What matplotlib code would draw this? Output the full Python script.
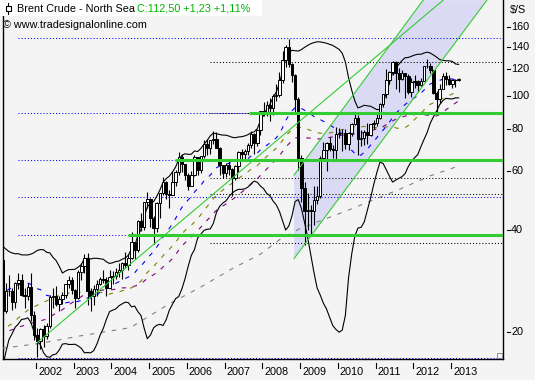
import numpy as np
import pandas as pd
import matplotlib
matplotlib.use("Agg")
import matplotlib.pyplot as plt
from matplotlib.patches import Rectangle, Polygon
import matplotlib.transforms as mtransforms

plt.rcParams['font.family'] = ['Liberation Sans', 'DejaVu Sans']

# monthly closes Jan 1996 - Dec 1999, only used to warm up the averages
warmup_close = [
    19.0, 19.5, 21.0, 19.5, 19.0, 20.0, 20.0, 22.0, 24.0, 23.5, 23.5, 23.8,
    23.2, 20.5, 20.0, 18.5, 20.0, 18.5, 19.5, 19.5, 20.5, 20.0, 18.5, 17.0,
    15.5, 14.0, 13.5, 14.5, 14.0, 12.3, 12.0, 12.0, 13.5, 12.5, 11.0, 10.5,
    11.0, 10.5, 13.5, 15.5, 15.5, 17.0, 20.0, 21.0, 23.5, 22.0, 25.0, 25.5,
]

# monthly candles Jan 2000 - Jan 2013 (open = previous close)
close = [
    27.6, 29.6, 25.0, 23.5, 29.5, 31.5, 27.5, 32.8, 30.8, 32.6, 32.6, 23.0,
    26.5, 26.5, 24.5, 27.9, 28.5, 25.8, 25.5, 27.2, 22.5, 19.6, 18.8, 20.4,
    19.5, 20.9, 25.4, 25.6, 24.2, 25.0, 25.8, 27.7, 28.5, 26.6, 25.3, 30.2,
    31.3, 33.2, 26.5, 25.6, 26.8, 27.8, 28.8, 28.6, 27.0, 29.1, 29.2, 30.2,
    30.5, 32.0, 31.6, 33.2, 37.0, 34.9, 42.5, 40.8, 48.5, 49.5, 43.5, 40.5,
    48.2, 51.5, 55.5, 51.2, 51.0, 55.6, 59.4, 65.8, 63.0, 58.4, 54.1, 58.3,
    65.8, 60.4, 66.3, 72.0, 70.2, 73.9, 74.4, 70.3, 62.5, 59.0, 62.5, 60.9,
    57.0, 61.8, 68.1, 67.2, 68.5, 71.4, 77.1, 72.7, 79.2, 90.1, 88.3, 93.8,
    91.8, 100.1, 100.3, 111.4, 127.5, 140.0, 124.1, 115.5, 98.2, 65.5, 53.5, 45.6,
    45.9, 45.6, 49.2, 50.6, 65.4, 69.3, 72.7, 69.5, 69.1, 77.0, 77.7, 77.9,
    72.0, 77.6, 82.7, 86.2, 74.6, 75.0, 78.4, 76.7, 82.3, 83.2, 85.9, 94.8,
    101.0, 111.8, 117.4, 125.9, 116.7, 112.5, 116.7, 114.9, 102.8, 109.6, 110.5, 107.4,
    111.0, 122.7, 122.9, 119.5, 101.9, 97.8, 104.9, 114.6, 112.4, 108.7, 111.3, 111.3,
    112.5,
]
high = [
    28.0, 30.6, 32.2, 25.0, 29.9, 32.0, 31.8, 33.0, 37.4, 34.5, 35.2, 32.6,
    28.0, 29.5, 27.0, 28.2, 30.0, 29.6, 27.0, 28.0, 30.0, 23.0, 20.5, 20.6,
    21.0, 21.2, 25.8, 27.0, 27.3, 25.5, 26.3, 27.8, 29.3, 29.0, 26.8, 30.6,
    32.0, 34.0, 34.2, 27.0, 27.5, 28.5, 29.0, 30.5, 29.0, 30.5, 30.3, 31.0,
    32.0, 32.2, 34.5, 34.0, 39.5, 37.0, 42.8, 45.0, 48.6, 52.0, 50.0, 44.0,
    48.5, 51.7, 57.5, 56.0, 52.5, 59.9, 60.5, 68.0, 67.5, 63.0, 59.0, 60.0,
    67.0, 66.0, 66.5, 74.0, 74.5, 74.0, 78.6, 78.0, 70.5, 62.5, 63.5, 64.5,
    61.0, 62.5, 68.5, 69.5, 69.5, 72.5, 78.5, 77.5, 80.0, 90.5, 96.0, 96.5,
    98.5, 101.5, 108.5, 118.0, 135.5, 141.0, 147.5, 125.5, 115.8, 99.5, 67.0, 55.5,
    51.5, 47.5, 54.0, 54.0, 66.5, 73.0, 73.0, 75.5, 71.5, 81.0, 80.5, 80.0,
    80.0, 78.0, 82.9, 89.0, 88.0, 79.0, 79.5, 83.0, 82.5, 85.0, 89.0, 95.0,
    101.5, 120.0, 118.5, 127.0, 126.5, 121.0, 119.0, 117.0, 116.0, 113.0, 115.5, 111.5,
    113.0, 123.0, 128.4, 125.0, 119.5, 103.5, 108.5, 117.0, 117.5, 115.5, 112.0, 112.5,
    113.1,
]
low = [
    23.0, 26.5, 24.0, 21.8, 23.0, 27.0, 26.5, 27.5, 30.2, 29.0, 31.0, 22.0,
    22.8, 25.5, 23.3, 23.6, 26.8, 25.5, 23.5, 24.8, 21.5, 19.0, 16.9, 17.8,
    18.0, 19.1, 20.5, 23.5, 23.8, 23.0, 24.2, 25.3, 27.0, 26.0, 23.5, 25.0,
    28.5, 30.0, 24.0, 23.0, 24.0, 25.5, 27.5, 28.0, 25.5, 27.0, 27.8, 28.8,
    29.0, 28.7, 31.0, 30.5, 33.0, 33.0, 34.5, 39.8, 40.0, 46.5, 41.0, 36.5,
    39.5, 43.5, 51.0, 49.5, 46.5, 51.0, 54.0, 58.5, 59.5, 56.5, 52.5, 54.0,
    58.0, 58.5, 59.0, 65.5, 67.0, 67.5, 72.0, 70.0, 58.5, 57.0, 57.5, 58.5,
    50.5, 56.5, 59.5, 64.5, 64.0, 67.0, 70.0, 67.5, 71.0, 76.5, 87.0, 87.0,
    84.5, 87.5, 96.5, 99.5, 109.5, 121.5, 121.5, 110.0, 88.5, 60.5, 48.5, 36.2,
    40.0, 39.0, 41.5, 48.0, 50.0, 65.0, 60.0, 68.5, 65.5, 64.5, 75.0, 68.5,
    69.5, 69.0, 76.0, 82.0, 67.0, 71.0, 71.5, 72.0, 76.0, 80.0, 81.5, 85.5,
    93.0, 98.5, 108.5, 115.5, 104.5, 102.5, 111.5, 98.5, 101.0, 99.0, 105.5, 102.5,
    107.0, 110.5, 121.0, 117.0, 101.5, 88.5, 95.5, 104.5, 107.5, 107.5, 105.5, 106.0,
    110.5,
]

# long average (grey dashed)
grey_year = [2001.1, 2002.1, 2003.2, 2004.5, 2005.55, 2006.35, 2007.2, 2007.95,
             2008.45, 2009.0, 2010.3, 2011.65, 2012.45, 2013.2]
grey_value = [17.9, 18.5, 19.5, 20.6, 24.3, 27.1, 30.8, 34.0,
              37.5, 40.5, 46.0, 53.0, 58.0, 62.0]

# horizontal marks: (price, start year)
blue_dotted = [(148.0, 2001.52), (50.3, 2001.52), (16.8, 2001.52),
               (89.0, 2001.52), (64.6, 2001.52), (38.7, 2001.52)]
blue_dotted_end = [None, None, None, 2007.65, 2005.68, 2004.44]
black_dotted = [125.7, 89.0, 57.0, 51.3, 36.7]
black_dotted_start = 2006.61
green_levels = [89.0, 64.6, 38.7]
green_start = [2007.65, 2005.68, 2004.44]

# trend lines (year, price) -> (year, price)
trend_lines = [
    ((2002.03, 18.6), (2012.79, 192.0)),
    ((2008.84, 58.3), (2012.26, 192.0)),
    ((2008.84, 33.0), (2013.95, 192.0)),
]
channel = [(2008.84, 58.3), (2012.26, 192.0), (2013.95, 192.0), (2008.84, 33.0)]

year_ticks = list(range(2002, 2014))
price_ticks = [20, 40, 60, 80, 100, 120, 140, 160]

# --- layout (pixel based) ---
W, H = 535, 380
ax_left, ax_right, ax_top, ax_bottom = 3, 503, 0, 359
px_per_year = 37.73
tick2002 = 36


def px_to_year(px):
    return 2002 + (px - tick2002) / px_per_year


def py_to_price(py):
    return 20 * np.exp((332 - py) / 146.7)


bg = '#f4f4f4'
fig = plt.figure(figsize=(W / 100, H / 100), dpi=100, facecolor=bg)
ax = fig.add_axes([ax_left / W, 1 - ax_bottom / H,
                   (ax_right - ax_left) / W, (ax_bottom - ax_top) / H])
ax.set_facecolor(bg)
ax.set_yscale('log')
x0, x1 = px_to_year(ax_left), px_to_year(ax_right)
ax.set_xlim(x0, x1)
ax.set_ylim(py_to_price(ax_bottom), py_to_price(ax_top))
ax.set_xticks([])
ax.set_yticks([])
ax.yaxis.set_minor_locator(matplotlib.ticker.NullLocator())
for side in ['left', 'bottom', 'right']:
    ax.spines[side].set_linewidth(1)
    ax.spines[side].set_color('black')
ax.spines['top'].set_visible(False)

# channel fill
ax.add_patch(Polygon(channel, closed=True, facecolor='#dadaf4',
                     edgecolor='none', zorder=1))

# dotted levels
for (p, xs_), xe in zip(blue_dotted, blue_dotted_end):
    ax.plot([xs_, xe if xe else x1], [p, p], color='#0000ff', lw=0.75,
            ls=(0, (1, 2)), zorder=2)
for p in black_dotted:
    ax.plot([black_dotted_start, x1], [p, p], color='black', lw=0.75,
            ls=(0, (1, 2)), zorder=2)

# averages and bands
all_close = np.array(warmup_close + close)
n_warm = len(warmup_close)
xm = 1996 + np.arange(len(all_close)) / 12 + 0.2
s = pd.Series(all_close)
mid = s.rolling(20).mean()
sd = s.rolling(20).std(ddof=0)
ma_olive = s.rolling(35).mean()
ma_purple = s.rolling(45).mean()
dash = (0, (4, 6))
ax.plot(xm, ma_purple, color='#800080', lw=0.8, ls=dash, zorder=3)
ax.plot(xm, ma_olive, color='#808000', lw=0.8, ls=dash, zorder=3)
ax.plot(xm, mid, color='#0000ff', lw=0.8, ls=dash, zorder=3)
ax.plot(grey_year, grey_value, color='#808080', lw=0.8, ls=dash, zorder=3)
ax.plot(xm, mid + 2 * sd, color='black', lw=0.8, zorder=3)
ax.plot(xm, mid - 2 * sd, color='black', lw=0.8, zorder=3)

# candles
xc = xm[n_warm:]
opens = all_close[n_warm - 1:-1]
cl = np.array(close)
ax.vlines(xc, low, high, color='black', lw=0.8, zorder=4)
body_lo = np.minimum(opens, cl)
body_hi = np.maximum(opens, cl)
colors = ['white' if c >= o else 'black' for o, c in zip(opens, cl)]
ax.bar(xc, body_hi - body_lo, bottom=body_lo, width=0.066, color=colors,
       edgecolor='black', linewidth=0.7, zorder=4.5)

# green levels and trend lines
for p, xs_ in zip(green_levels, green_start):
    ax.plot([xs_, x1], [p, p], color='#33cc33', lw=2.2, zorder=5,
            solid_capstyle='butt')
for (a, b) in trend_lines:
    ax.plot([a[0], b[0]], [a[1], b[1]], color='#33cc33', lw=0.8, zorder=5)

# right axis ticks (drawn by hand, detached from the frame)
tr_y = mtransforms.blended_transform_factory(fig.transFigure, ax.transData)
for p in price_ticks:
    ax.plot([507 / W, 510 / W], [p, p], color='black', lw=0.8,
            transform=tr_y, clip_on=False)
    ax.text(511 / W, p, str(p), transform=tr_y, fontsize=7.8,
            va='center', ha='left')
fig.text(510 / W, 1 - 10 / H, '$/S', fontsize=7.8, va='center', ha='left')

# bottom year ticks
tr_x = mtransforms.blended_transform_factory(ax.transData, fig.transFigure)
for yr in year_ticks:
    ax.plot([yr, yr], [1 - 363 / H, 1 - 368 / H], color='black', lw=0.8,
            transform=tr_x, clip_on=False)
    ax.text(yr + 2 / px_per_year, 1 - 372 / H, str(yr), transform=tr_x,
            fontsize=7.8, va='center', ha='left')

# small resize grip in the corner
fig.patches.append(Rectangle((497 / W, 1 - 358 / H), 5 / W, 5 / H,
                             transform=fig.transFigure, facecolor='none',
                             edgecolor='#808080', lw=0.6, zorder=10))

# header
fig.patches.append(Rectangle((0, 1 - 16 / H), 262 / W, 16 / H,
                             transform=fig.transFigure, facecolor='white',
                             edgecolor='none', zorder=10))
fig.lines.append(plt.Line2D([8 / W, 8 / W], [1 - 3 / H, 1 - 14 / H],
                            transform=fig.transFigure, color='black', lw=0.8,
                            zorder=11))
fig.patches.append(Rectangle((5.5 / W, 1 - 11 / H), 5 / W, 5 / H,
                             transform=fig.transFigure, facecolor='white',
                             edgecolor='black', lw=0.8, zorder=11))
fig.text(17 / W, 1 - 8.5 / H, 'Brent Crude - North Sea', fontsize=7.8,
         va='center', ha='left', zorder=12)
fig.text(137 / W, 1 - 8.5 / H, 'C:112,50 +1,23 +1,11%', fontsize=7.8,
         va='center', ha='left', color='#00b400', zorder=12)
fig.text(3 / W, 1 - 25 / H, '\u00a9 www.tradesignalonline.com', fontsize=7.8,
         va='center', ha='left', zorder=12)

fig.savefig('out.png', dpi=100, facecolor=bg)
